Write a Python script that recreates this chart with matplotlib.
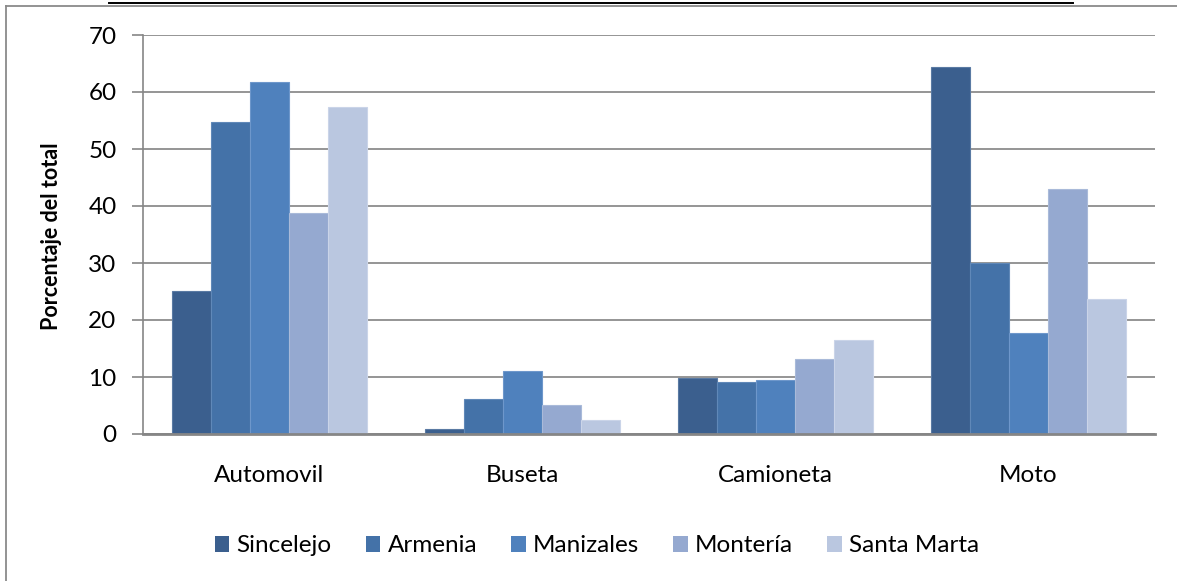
import matplotlib
matplotlib.use("Agg")
import matplotlib.pyplot as plt
from matplotlib.lines import Line2D
from matplotlib.patches import Patch
import numpy as np

categories = ["Automovil", "Buseta", "Camioneta", "Moto"]
series_names = ["Sincelejo", "Armenia", "Manizales", "Montería", "Santa Marta"]
sincelejo = [25.1, 0.9, 9.8, 64.3]
armenia = [54.8, 6.1, 9.1, 30.0]
manizales = [61.8, 11.0, 9.4, 17.8]
monteria = [38.8, 5.1, 13.1, 43.0]
santa_marta = [57.3, 2.5, 16.5, 23.7]
yticks = [0, 10, 20, 30, 40, 50, 60, 70]
ylabel = "Porcentaje del total"

series = [sincelejo, armenia, manizales, monteria, santa_marta]
colors = ["#3B5F8E", "#4472A8", "#4F81BD", "#95A9D0", "#BAC7E0"]
edges = ["#5A7AA3", "#6088B8", "#6E97CB", "#A9BAD9", "#CAD4E8"]

plt.rcParams['font.family'] = ['Lato', 'DejaVu Sans']
FS = 17.5

fig = plt.figure(figsize=(11.77, 5.81), dpi=100)
W, H = 1177, 581
ax = fig.add_axes([143 / W, (H - 434) / H, (1155 - 143) / W, (434 - 35) / H])

n = len(series)
group = 0.77
bw = group / n
x = np.arange(len(categories))
for i, (vals, c, ec) in enumerate(zip(series, colors, edges)):
    off = -group / 2 + bw * (i + 0.5)
    ax.bar(x + off, vals, width=bw, color=c, edgecolor=ec, linewidth=0.8,
           label=series_names[i], zorder=3)

ax.set_xlim(-0.5, len(categories) - 0.5)
ax.set_ylim(0, 70)
ax.set_yticks(yticks)
ax.set_yticklabels([str(t) for t in yticks], fontsize=FS)
ax.set_xticks(x)
ax.set_xticklabels(categories, fontsize=FS)
ax.tick_params(axis='x', length=0, pad=22)
ax.tick_params(axis='y', length=8, width=1.2, color="#868686", pad=11, direction='out')
ax.yaxis.grid(True, color="#8C8C8C", linewidth=1.3, zorder=0)
ax.set_axisbelow(True)
for s in ["top", "right"]:
    ax.spines[s].set_visible(False)
ax.spines["left"].set_color("#868686")
ax.spines["left"].set_linewidth(1.2)
ax.spines["bottom"].set_color("#868686")
ax.spines["bottom"].set_linewidth(2.0)
ax.spines["bottom"].set_zorder(4)
ax.set_ylabel(ylabel, fontsize=15.5, fontweight='bold')
ax.yaxis.set_label_coords((62 - 143) / 1012, (434 - 236) / 399)

handles = [Patch(facecolor=c, edgecolor='none') for c in colors]
fig.legend(handles, series_names, loc='center', bbox_to_anchor=(597 / W, 1 - 546 / H),
           ncol=5, frameon=False, fontsize=FS, handlelength=0.6, handleheight=0.6,
           handletextpad=0.3, columnspacing=1.4)

# outer frame (gray) and cropped title underline (black)
fig.add_artist(Line2D([5.5 / W, 5.5 / W], [0, 1 - 6 / H], color="#8A8A8A", lw=1.3,
                      transform=fig.transFigure))
fig.add_artist(Line2D([5.5 / W, 1], [1 - 6 / H, 1 - 6 / H], color="#8A8A8A", lw=1.3,
                      transform=fig.transFigure))
fig.add_artist(Line2D([109 / W, 1073 / W], [1 - 2.8 / H, 1 - 2.8 / H], color="black", lw=1.4,
                      transform=fig.transFigure))

fig.savefig("out.png", dpi=100, facecolor="white")
